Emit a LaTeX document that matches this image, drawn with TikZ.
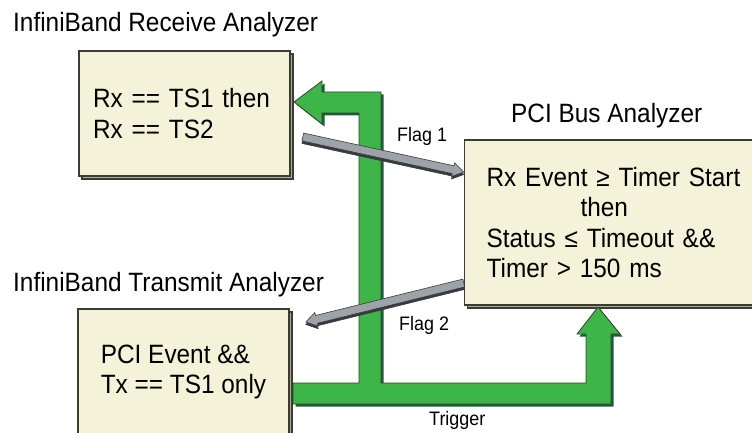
\documentclass[tikz,border=0pt]{standalone}
\usepackage{fontspec}
\setmainfont{Liberation Sans}[FakeStretch=0.92]
\usetikzlibrary{calc,shadows}

\definecolor{boxcream}{RGB}{244,243,218}
\definecolor{boxshade}{RGB}{172,172,150}
\definecolor{boxline}{RGB}{60,60,50}
\definecolor{triggergreen}{RGB}{62,181,73}
\definecolor{triggerdark}{RGB}{25,95,55}
\definecolor{flaggray}{RGB}{158,163,170}
\definecolor{flagdark}{RGB}{55,58,62}

\tikzstyle{analyzer} = [draw=boxline,fill=boxcream,line width=1.2pt,align=left,inner ysep=0pt,
  font=\fontsize{26.5}{30.5}\selectfont,
  drop shadow={shadow xshift=3pt,shadow yshift=-3pt,fill=boxshade,draw=boxline,opacity=1}]
\tikzstyle{title} = [font=\fontsize{26.5}{30}\selectfont,inner sep=0pt]
\tikzstyle{flag} = [font=\fontsize{19.5}{21}\selectfont,inner sep=0pt]
\tikzstyle{trigger} = [draw=boxline,fill=triggergreen,line width=0.8pt,line join=miter]
\tikzstyle{triggershade} = [fill=triggerdark]
\tikzstyle{flagbody} = [draw=flagdark,fill=flaggray,line width=0.6pt]
\tikzstyle{flagshade} = [fill=flagdark,draw=flagdark,line width=0.6pt]

% block arrow from #1 to tip #2
\newcommand{\flagarrow}[2]{%
  \coordinate (hb) at ($(#2)!11pt!(#1)$);
  \foreach \shade/\dy in {flagshade/-2.5pt, flagbody/0pt}
  {
    \filldraw[\shade, transform canvas={shift={(0.8pt,\dy)}}]
      ($(#1)!4pt!90:(#2)$) -- ($(hb)!4pt!90:(#2)$) -- ($(hb)!7pt!90:(#2)$) -- (#2)
      -- ($(hb)!7pt!-90:(#2)$) -- ($(hb)!4pt!-90:(#2)$) -- ($(#1)!4pt!-90:(#2)$) -- cycle;
  }
}

\begin{document}
\begin{tikzpicture}[x=1pt,y=-1pt]
  \clip (0,0) rectangle (752,433);
  %titles
  \foreach \nodename/\x/\y/\words in {
    rxtitle/13/32/InfiniBand Receive Analyzer,
    pcititle/511/123/PCI Bus Analyzer,
    txtitle/13/291/InfiniBand Transmit Analyzer}
  {
    \node[title, anchor=base west] (\nodename) at (\x,\y) {\words};
  };
  %analyzers
  \node[analyzer, text width=183pt, inner xsep=14pt, minimum height=125pt] (rx) at (184.5,113.5)
    {Rx == TS1 then\\Rx == TS2};
  \node[analyzer, minimum width=211pt, minimum height=126pt] (tx) at (183.5,372)
    {PCI Event \&\&\\Tx == TS1 only};
  \node[analyzer, text width=276pt, inner xsep=22pt, minimum height=165pt, anchor=west] (pci) at (464,222.5)
    {Rx Event ≥ Timer Start\\\hspace*{94pt}then\\Status ≤ Timeout \&\&\\Timer > 150 ms};
  %trigger
  \def\triggerpath{(293,383) -- (359,383) -- (359,113) -- (322,113) -- (322,124) -- (294,102)
    -- (322,81) -- (322,92) -- (381,92) -- (381,383) -- (586,383) -- (586,334) -- (577,334)
    -- (598,307) -- (620,334) -- (611,334) -- (611,404) -- (293,404) -- cycle}
  \fill[triggershade, shift={(2.5,2.5)}] \triggerpath;
  \draw[trigger] \triggerpath;
  %flags
  \coordinate (f1s) at (302,137);
  \coordinate (f1e) at (463,172);
  \coordinate (f2s) at (463,283);
  \coordinate (f2e) at (305,322);
  \flagarrow{f1s}{f1e}
  \flagarrow{f2s}{f2e}
  %labels
  \node[flag, anchor=base west] (flag1) at (397,142) {Flag 1};
  \node[flag, anchor=base west] (flag2) at (399,330) {Flag 2};
  \node[flag, anchor=base west] (trig) at (429,425) {Trigger};
\end{tikzpicture}
\end{document}
